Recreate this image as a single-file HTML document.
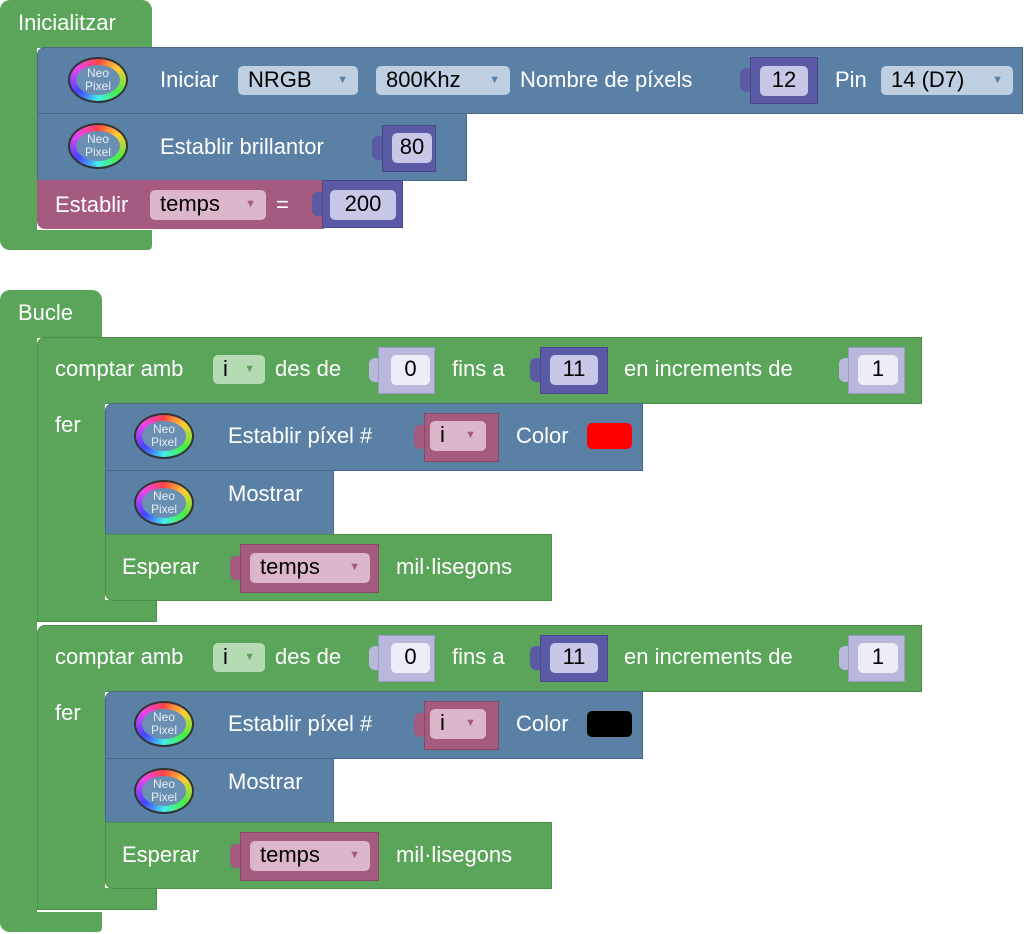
<!DOCTYPE html>
<html><head><meta charset="utf-8"><style>
body{margin:0;width:1024px;height:934px;background:#fff;position:relative;overflow:hidden;font-family:"Liberation Sans",sans-serif;}
.a{position:absolute;box-sizing:border-box;}
.g{background:#5ba55b;}
.b{background:#5b80a5;border:1px solid #49698a;}
.p{background:#a55b80;}
.pu{background:#5b5ba5;border:1px solid #48488a;}
.lp{background:#b8b8dc;border:1px solid #9a9ac2;}
.tb{position:absolute;width:10px;height:24px;border-radius:6px 0 0 6px;}
.t{position:absolute;color:#fff;font-size:22px;line-height:26px;white-space:nowrap;}
.f{position:absolute;box-sizing:border-box;border-radius:5px;font-size:22px;line-height:28px;color:#000;padding-left:10px;white-space:nowrap;}
.fb{background:#bdcfe0;}
.fp{background:#dcb6cb;}
.fg{background:#b5dbb5;}
.fn{background:#c7c7e8;text-align:center;padding:0;}
.fw{background:#ededf7;text-align:center;padding:0;}
.ar{position:absolute;right:10px;top:0;font-size:11px;}
.fb .ar{color:#5b80a5}.fp .ar{color:#a55b80}.fg .ar{color:#5ba55b}
.ic{position:absolute;width:60px;height:46px;border-radius:50%;background:#333;}
.ic>span{position:absolute;left:2px;top:2px;right:2px;bottom:2px;border-radius:50%;background:conic-gradient(#f44,#fc3,#4e4,#4ee,#44f,#e4e,#f44);}
.ic div{position:absolute;left:8px;top:8px;right:8px;bottom:8px;border-radius:50%;background:#6a8fb3;color:#e6eef6;font-size:12px;line-height:13px;text-align:center;padding-top:2px;box-sizing:border-box;}
</style></head><body>
<!-- Inicialitzar -->
<div class="a g" style="left:0;top:0;width:152px;height:48px;border-radius:10px 10px 0 0"></div>
<div class="a g" style="left:0;top:40px;width:37px;height:210px;border-radius:0 0 0 10px"></div>
<div class="a g" style="left:0;top:230px;width:152px;height:20px;border-radius:0 0 4px 10px"></div>
<div class="t" style="left:18px;top:10px">Inicialitzar</div>

<div class="a b" style="left:37px;top:47px;width:986px;height:67px;border-radius:8px 0 0 0"></div>
<div class="ic" style="left:68px;top:57px"><span></span><div>Neo<br>Pixel</div></div>
<div class="t" style="left:160px;top:67px">Iniciar</div>
<div class="f fb" style="left:238px;top:66px;width:120px;height:29px">NRGB<span class="ar">▼</span></div>
<div class="f fb" style="left:376px;top:66px;width:134px;height:29px">800Khz<span class="ar">▼</span></div>
<div class="t" style="left:520px;top:67px">Nombre de píxels</div>
<div class="tb" style="left:740px;top:68px;background:#5b5ba5"></div>
<div class="a pu" style="left:750px;top:57px;width:68px;height:47px"></div>
<div class="f fn" style="left:760px;top:66px;width:48px;height:30px">12</div>
<div class="t" style="left:835px;top:67px">Pin</div>
<div class="f fb" style="left:881px;top:66px;width:132px;height:29px">14 (D7)<span class="ar">▼</span></div>

<div class="a b" style="left:37px;top:113px;width:430px;height:68px"></div>
<div class="ic" style="left:68px;top:123px"><span></span><div>Neo<br>Pixel</div></div>
<div class="t" style="left:160px;top:134px">Establir brillantor</div>
<div class="tb" style="left:372px;top:136px;background:#5b5ba5"></div>
<div class="a pu" style="left:382px;top:125px;width:54px;height:47px"></div>
<div class="f fn" style="left:392px;top:133px;width:40px;height:30px">80</div>

<div class="a p" style="left:37px;top:180px;width:287px;height:49px;border-radius:0 0 0 8px"></div>
<div class="t" style="left:55px;top:192px">Establir</div>
<div class="f fp" style="left:150px;top:190px;width:116px;height:30px">temps<span class="ar">▼</span></div>
<div class="t" style="left:276px;top:192px">=</div>
<div class="tb" style="left:312px;top:192px;background:#5b5ba5"></div>
<div class="a pu" style="left:322px;top:180px;width:81px;height:48px"></div>
<div class="f fn" style="left:330px;top:190px;width:66px;height:30px">200</div>

<!-- Bucle -->
<div class="a g" style="left:0;top:290px;width:102px;height:48px;border-radius:10px 10px 0 0"></div>
<div class="a g" style="left:0;top:330px;width:37px;height:602px;border-radius:0 0 0 10px"></div>
<div class="a g" style="left:0;top:912px;width:102px;height:20px;border-radius:0 0 4px 10px"></div>
<div class="t" style="left:18px;top:300px">Bucle</div>

<!-- loop 1 -->
<div class="a g" style="left:37px;top:337px;width:885px;height:67px;border:1px solid #4b8f4b;border-radius:8px 0 0 0"></div>
<div class="a g" style="left:37px;top:400px;width:68px;height:222px;border-left:1px solid #4b8f4b"></div>
<div class="a g" style="left:37px;top:600px;width:120px;height:22px;border:1px solid #4b8f4b;border-top:none"></div>
<div class="t" style="left:55px;top:356px">comptar amb</div>
<div class="f fg" style="left:213px;top:355px;width:52px;height:29px">i<span class="ar">▼</span></div>
<div class="t" style="left:275px;top:356px">des de</div>
<div class="tb" style="left:369px;top:358px;background:#b8b8dc"></div>
<div class="a lp" style="left:378px;top:347px;width:57px;height:47px"></div>
<div class="f fw" style="left:391px;top:355px;width:39px;height:30px">0</div>
<div class="t" style="left:452px;top:356px">fins a</div>
<div class="tb" style="left:530px;top:358px;background:#5b5ba5"></div>
<div class="a pu" style="left:540px;top:347px;width:68px;height:47px"></div>
<div class="f fn" style="left:550px;top:355px;width:48px;height:30px">11</div>
<div class="t" style="left:624px;top:356px">en increments de</div>
<div class="tb" style="left:839px;top:358px;background:#b8b8dc"></div>
<div class="a lp" style="left:848px;top:347px;width:57px;height:47px"></div>
<div class="f fw" style="left:858px;top:355px;width:40px;height:30px">1</div>
<div class="t" style="left:55px;top:412px">fer</div>

<div class="a b" style="left:105px;top:403px;width:538px;height:68px;border-radius:8px 0 0 0"></div>
<div class="ic" style="left:134px;top:413px"><span></span><div>Neo<br>Pixel</div></div>
<div class="t" style="left:228px;top:423px">Establir píxel #</div>
<div class="tb" style="left:414px;top:425px;background:#a55b80"></div>
<div class="a p" style="left:424px;top:413px;width:75px;height:49px;border:1px solid #8a4868"></div>
<div class="f fp" style="left:430px;top:421px;width:56px;height:30px">i<span class="ar">▼</span></div>
<div class="t" style="left:516px;top:423px">Color</div>
<div class="a" style="left:587px;top:423px;width:45px;height:26px;background:#f00;border-radius:5px"></div>

<div class="a b" style="left:105px;top:470px;width:229px;height:65px"></div>
<div class="ic" style="left:134px;top:480px"><span></span><div>Neo<br>Pixel</div></div>
<div class="t" style="left:228px;top:481px">Mostrar</div>

<div class="a g" style="left:105px;top:534px;width:447px;height:67px;border:1px solid #4b8f4b;border-radius:0 0 0 8px"></div>
<div class="t" style="left:122px;top:554px">Esperar</div>
<div class="tb" style="left:230px;top:556px;background:#a55b80"></div>
<div class="a p" style="left:240px;top:544px;width:139px;height:49px;border:1px solid #8a4868"></div>
<div class="f fp" style="left:250px;top:553px;width:120px;height:30px">temps<span class="ar">▼</span></div>
<div class="t" style="left:396px;top:554px">mil·lisegons</div>

<!-- loop 2 -->
<div class="a g" style="left:37px;top:625px;width:885px;height:67px;border:1px solid #4b8f4b;border-radius:8px 0 0 0"></div>
<div class="a g" style="left:37px;top:688px;width:68px;height:222px;border-left:1px solid #4b8f4b"></div>
<div class="a g" style="left:37px;top:888px;width:120px;height:22px;border:1px solid #4b8f4b;border-top:none"></div>
<div class="t" style="left:55px;top:644px">comptar amb</div>
<div class="f fg" style="left:213px;top:643px;width:52px;height:29px">i<span class="ar">▼</span></div>
<div class="t" style="left:275px;top:644px">des de</div>
<div class="tb" style="left:369px;top:646px;background:#b8b8dc"></div>
<div class="a lp" style="left:378px;top:635px;width:57px;height:47px"></div>
<div class="f fw" style="left:391px;top:643px;width:39px;height:30px">0</div>
<div class="t" style="left:452px;top:644px">fins a</div>
<div class="tb" style="left:530px;top:646px;background:#5b5ba5"></div>
<div class="a pu" style="left:540px;top:635px;width:68px;height:47px"></div>
<div class="f fn" style="left:550px;top:643px;width:48px;height:30px">11</div>
<div class="t" style="left:624px;top:644px">en increments de</div>
<div class="tb" style="left:839px;top:646px;background:#b8b8dc"></div>
<div class="a lp" style="left:848px;top:635px;width:57px;height:47px"></div>
<div class="f fw" style="left:858px;top:643px;width:40px;height:30px">1</div>
<div class="t" style="left:55px;top:700px">fer</div>

<div class="a b" style="left:105px;top:691px;width:538px;height:68px;border-radius:8px 0 0 0"></div>
<div class="ic" style="left:134px;top:701px"><span></span><div>Neo<br>Pixel</div></div>
<div class="t" style="left:228px;top:711px">Establir píxel #</div>
<div class="tb" style="left:414px;top:713px;background:#a55b80"></div>
<div class="a p" style="left:424px;top:701px;width:75px;height:49px;border:1px solid #8a4868"></div>
<div class="f fp" style="left:430px;top:709px;width:56px;height:30px">i<span class="ar">▼</span></div>
<div class="t" style="left:516px;top:711px">Color</div>
<div class="a" style="left:587px;top:711px;width:45px;height:26px;background:#000;border-radius:5px"></div>

<div class="a b" style="left:105px;top:758px;width:229px;height:65px"></div>
<div class="ic" style="left:134px;top:768px"><span></span><div>Neo<br>Pixel</div></div>
<div class="t" style="left:228px;top:769px">Mostrar</div>

<div class="a g" style="left:105px;top:822px;width:447px;height:67px;border:1px solid #4b8f4b;border-radius:0 0 0 8px"></div>
<div class="t" style="left:122px;top:842px">Esperar</div>
<div class="tb" style="left:230px;top:844px;background:#a55b80"></div>
<div class="a p" style="left:240px;top:832px;width:139px;height:49px;border:1px solid #8a4868"></div>
<div class="f fp" style="left:250px;top:841px;width:120px;height:30px">temps<span class="ar">▼</span></div>
<div class="t" style="left:396px;top:842px">mil·lisegons</div>
</body></html>
